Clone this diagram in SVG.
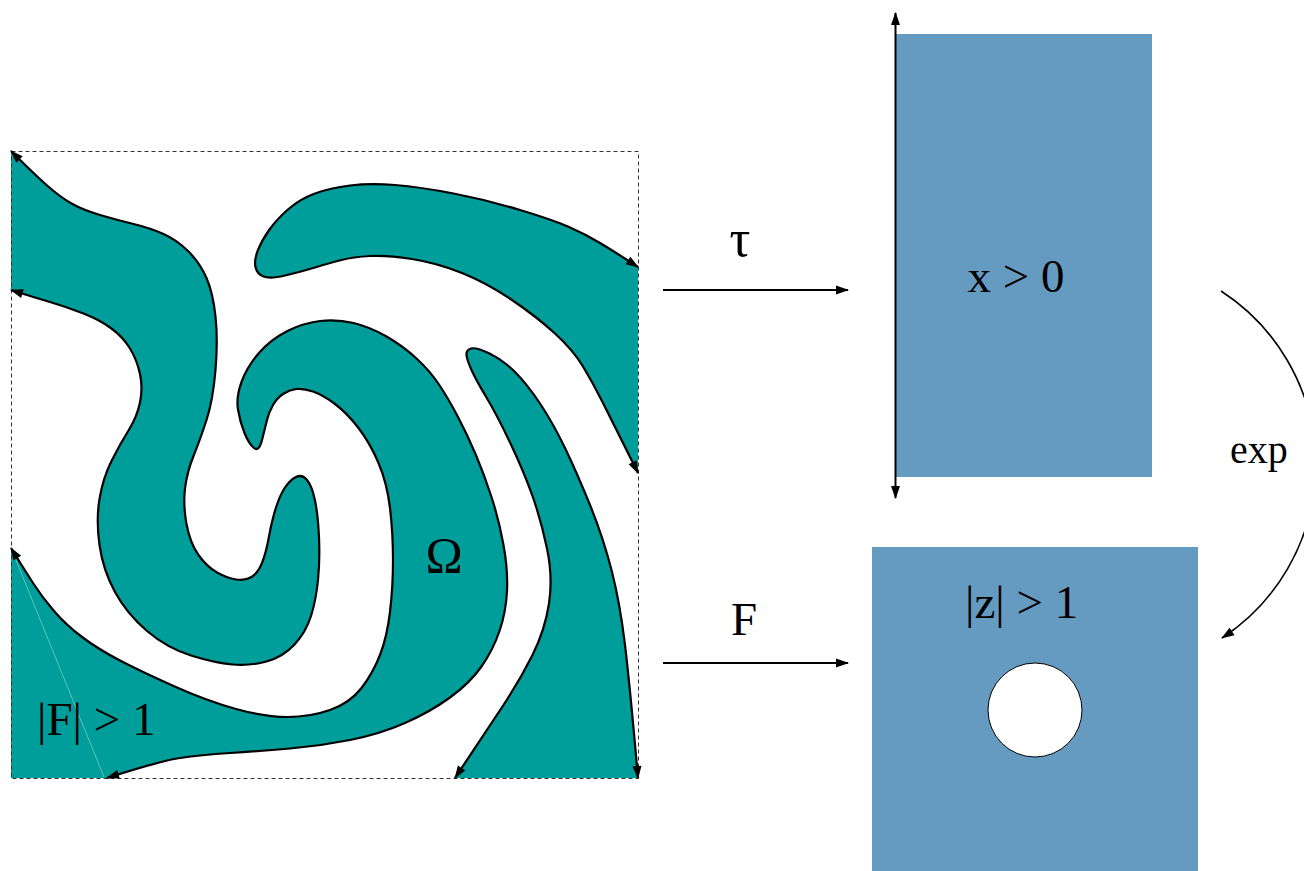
<svg xmlns="http://www.w3.org/2000/svg" width="1304" height="871" viewBox="0 0 1304 871">
<style>
.teal{fill:#009E9B;stroke:none}
.edge{fill:none;stroke:#000;stroke-width:2.2;stroke-linejoin:round;marker-start:url(#ah-s);marker-end:url(#ah)}
.frame{fill:none;stroke:#333;stroke-width:1;stroke-dasharray:4 3}
.blue{fill:#659BC1;stroke:none}
.lbl{font-family:"Liberation Serif","Times New Roman",serif;font-size:47px;fill:#000}
.conn{fill:none;stroke:#000;stroke-width:2;marker-end:url(#ah)}
</style>
<defs>
<marker id="ah" markerUnits="userSpaceOnUse" markerWidth="13" markerHeight="9" refX="12" refY="4.5" orient="auto" overflow="visible">
<path d="M0,0 L13,4.5 L0,9 z" fill="#000"/>
</marker>
<marker id="ah-s" markerUnits="userSpaceOnUse" markerWidth="13" markerHeight="9" refX="12" refY="4.5" orient="auto-start-reverse" overflow="visible">
<path d="M0,0 L13,4.5 L0,9 z" fill="#000"/>
</marker>
</defs>

<g id="omega-domain">
<path class="teal" d="M11,151 Q33,173 46.5,185 Q60,197 71.5,203.5 Q83,210 100,215 Q117,220 133.5,224 Q150,228 163.5,234 Q177,240 188.5,251.5 Q200,263 206.5,278 Q213,293 215.5,316.5 Q218,340 215.5,370 Q213,400 206.5,420 Q200,440 193.5,456 Q187,472 185,488.5 Q183,505 186.5,524 Q190,543 198.5,555 Q207,567 217,572.5 Q227,578 236,579.5 Q245,581 251.5,577 Q258,573 262,563 Q266,553 269,536.5 Q272,520 276,507.5 Q280,495 285,487.5 Q290,480 296,477 Q302,474 307,480 Q312,486 315,500.5 Q318,515 319,537.5 Q320,560 318,580 Q316,600 311,616 Q306,632 294.5,644.5 Q283,657 266.5,661.5 Q250,666 232.5,664.5 Q215,663 191,655.5 Q167,648 147,631 Q127,614 115,592 Q103,570 99.5,545 Q96,520 99.5,499 Q103,478 111.5,461 Q120,444 128.5,430.5 Q137,417 140,402.5 Q143,388 140,374 Q137,360 130,348.5 Q123,337 111.5,328.5 Q100,320 83.5,313.5 Q67,307 50,302 Q33,297 11,290 Z"/>
<path class="teal" d="M11,548 Q24,569 33,583 Q42,597 54,611 Q66,625 82,637 Q98,649 119,660 Q140,671 173.5,686 Q207,701 236,709 Q265,717 287.5,717 Q310,717 330,710 Q350,703 361.5,688 Q373,673 380,655 Q387,637 390,612 Q393,587 393,560 Q393,533 390,508 Q387,483 378.5,463 Q370,443 358.5,428 Q347,413 335,404 Q323,395 313,391.5 Q303,388 296,389 Q289,390 283,394 Q277,398 273,405 Q269,412 267,420 Q265,428 262,440 Q259,452 254,448 Q249,444 244.5,433 Q240,422 238,409.5 Q236,397 241.5,382 Q247,367 258.5,353.5 Q270,340 286.5,331.5 Q303,323 320,321 Q337,319 353.5,323 Q370,327 386.5,336.5 Q403,346 416.5,358.5 Q430,371 439,384.5 Q448,398 457.5,416 Q467,434 475.5,454 Q484,474 491.5,497 Q499,520 503.5,545 Q508,570 507,591 Q506,612 499.5,631 Q493,650 481.5,666.5 Q470,683 450,697.5 Q430,712 405,723 Q380,734 350,740 Q320,746 290,748.5 Q260,751 230,753 Q200,755 180,758 Q160,761 107,778 L11,778 Z"/>
<path class="teal" d="M638,267 Q615,252 600,243 Q585,234 569,227 Q553,220 520,210 Q487,200 453.5,193.5 Q420,187 395,185 Q370,183 350,185.5 Q330,188 315,193.5 Q300,199 288.5,209 Q277,219 269.5,229.5 Q262,240 258,250 Q254,260 255.5,267 Q257,274 263.5,276.5 Q270,279 285,275.5 Q300,272 315,267.5 Q330,263 341.5,260 Q353,257 370,256 Q387,255 412,259 Q437,263 462,273 Q487,283 512,300 Q537,317 555,333.5 Q573,350 583,366.5 Q593,383 603,403 Q613,423 619.5,436 Q626,449 638,473 Z"/>
<path class="teal" d="M455,778 Q487,730 503.5,705 Q520,680 532.5,655 Q545,630 549,603.5 Q553,577 547,548.5 Q541,520 532.5,496 Q524,472 510.5,443.5 Q497,415 486.5,397.5 Q476,380 471.5,370 Q467,360 466.5,355 Q466,350 471,348.5 Q476,347 489.5,353.5 Q503,360 515,372 Q527,384 540,403.5 Q553,423 565,448 Q577,473 590,505 Q603,537 611.5,570 Q620,603 625,645 Q630,687 638,778 Z"/>
<line x1="11.5" y1="549" x2="104" y2="777" stroke="#a8e0de" stroke-width="0.8" opacity="0.7"/>
<rect class="frame" x="11.5" y="151.5" width="627" height="627"/>
<path class="edge" d="M11,151 Q33,173 46.5,185 Q60,197 71.5,203.5 Q83,210 100,215 Q117,220 133.5,224 Q150,228 163.5,234 Q177,240 188.5,251.5 Q200,263 206.5,278 Q213,293 215.5,316.5 Q218,340 215.5,370 Q213,400 206.5,420 Q200,440 193.5,456 Q187,472 185,488.5 Q183,505 186.5,524 Q190,543 198.5,555 Q207,567 217,572.5 Q227,578 236,579.5 Q245,581 251.5,577 Q258,573 262,563 Q266,553 269,536.5 Q272,520 276,507.5 Q280,495 285,487.5 Q290,480 296,477 Q302,474 307,480 Q312,486 315,500.5 Q318,515 319,537.5 Q320,560 318,580 Q316,600 311,616 Q306,632 294.5,644.5 Q283,657 266.5,661.5 Q250,666 232.5,664.5 Q215,663 191,655.5 Q167,648 147,631 Q127,614 115,592 Q103,570 99.5,545 Q96,520 99.5,499 Q103,478 111.5,461 Q120,444 128.5,430.5 Q137,417 140,402.5 Q143,388 140,374 Q137,360 130,348.5 Q123,337 111.5,328.5 Q100,320 83.5,313.5 Q67,307 50,302 Q33,297 11,290"/>
<path class="edge" d="M11,548 Q24,569 33,583 Q42,597 54,611 Q66,625 82,637 Q98,649 119,660 Q140,671 173.5,686 Q207,701 236,709 Q265,717 287.5,717 Q310,717 330,710 Q350,703 361.5,688 Q373,673 380,655 Q387,637 390,612 Q393,587 393,560 Q393,533 390,508 Q387,483 378.5,463 Q370,443 358.5,428 Q347,413 335,404 Q323,395 313,391.5 Q303,388 296,389 Q289,390 283,394 Q277,398 273,405 Q269,412 267,420 Q265,428 262,440 Q259,452 254,448 Q249,444 244.5,433 Q240,422 238,409.5 Q236,397 241.5,382 Q247,367 258.5,353.5 Q270,340 286.5,331.5 Q303,323 320,321 Q337,319 353.5,323 Q370,327 386.5,336.5 Q403,346 416.5,358.5 Q430,371 439,384.5 Q448,398 457.5,416 Q467,434 475.5,454 Q484,474 491.5,497 Q499,520 503.5,545 Q508,570 507,591 Q506,612 499.5,631 Q493,650 481.5,666.5 Q470,683 450,697.5 Q430,712 405,723 Q380,734 350,740 Q320,746 290,748.5 Q260,751 230,753 Q200,755 180,758 Q160,761 107,778"/>
<path class="edge" d="M638,267 Q615,252 600,243 Q585,234 569,227 Q553,220 520,210 Q487,200 453.5,193.5 Q420,187 395,185 Q370,183 350,185.5 Q330,188 315,193.5 Q300,199 288.5,209 Q277,219 269.5,229.5 Q262,240 258,250 Q254,260 255.5,267 Q257,274 263.5,276.5 Q270,279 285,275.5 Q300,272 315,267.5 Q330,263 341.5,260 Q353,257 370,256 Q387,255 412,259 Q437,263 462,273 Q487,283 512,300 Q537,317 555,333.5 Q573,350 583,366.5 Q593,383 603,403 Q613,423 619.5,436 Q626,449 638,473"/>
<path class="edge" d="M455,778 Q487,730 503.5,705 Q520,680 532.5,655 Q545,630 549,603.5 Q553,577 547,548.5 Q541,520 532.5,496 Q524,472 510.5,443.5 Q497,415 486.5,397.5 Q476,380 471.5,370 Q467,360 466.5,355 Q466,350 471,348.5 Q476,347 489.5,353.5 Q503,360 515,372 Q527,384 540,403.5 Q553,423 565,448 Q577,473 590,505 Q603,537 611.5,570 Q620,603 625,645 Q630,687 638,778"/>
<text class="lbl" x="444" y="572" text-anchor="middle" style="font-size:50px">Ω</text>
<text class="lbl" x="37" y="735">|F| &gt; 1</text>
</g>

<g id="half-plane">
<rect class="blue" x="896" y="34" width="256" height="443"/>
<line x1="895.5" y1="13" x2="895.5" y2="498" stroke="#000" stroke-width="2" marker-start="url(#ah-s)" marker-end="url(#ah)"/>
<text class="lbl" x="1016" y="292" text-anchor="middle">x &gt; 0</text>
</g>

<g id="disk-exterior">
<rect class="blue" x="872" y="547" width="326" height="324"/>
<circle cx="1035" cy="710" r="47" fill="#fff" stroke="#000" stroke-width="1"/>
<text class="lbl" x="965" y="618">|z| &gt; 1</text>
</g>

<g id="connectors">
<line class="conn" x1="663" y1="290" x2="848" y2="290"/>
<line class="conn" x1="663" y1="663" x2="848" y2="663"/>
<path class="conn" style="stroke-width:1.6" d="M1221,291 A207,207 0 0 1 1222,638"/>
</g>

<g id="labels">
<text class="lbl" x="740" y="256" text-anchor="middle" style="font-size:52px">τ</text>
<text class="lbl" x="744" y="635" text-anchor="middle">F</text>
<text class="lbl" x="1259" y="463" text-anchor="middle" style="font-size:40px">exp</text>
</g>
</svg>
